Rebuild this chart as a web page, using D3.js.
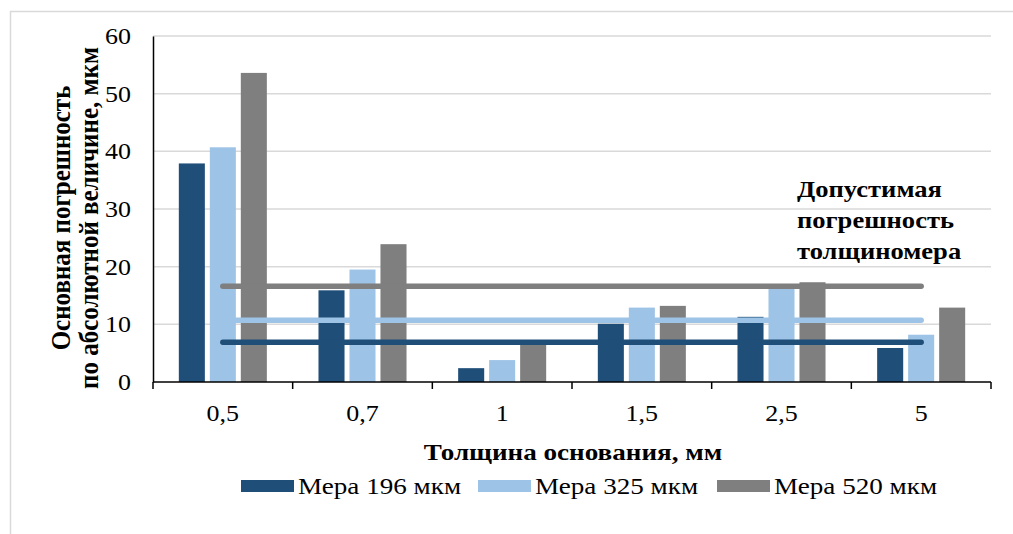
<!DOCTYPE html>
<html><head><meta charset="utf-8">
<script src="https://cdn.jsdelivr.net/npm/d3@7/dist/d3.min.js"></script>
</head>
<body style="margin:0">
<svg id="chart" width="1013" height="534"></svg>
<script>
const categories = ["0,5", "0,7", "1", "1,5", "2,5", "5"];
const seriesNames = ["Мера 196 мкм", "Мера 325 мкм", "Мера 520 мкм"];
const bars196 = [37.9, 15.9, 2.4, 10.1, 11.3, 5.9];
const bars325 = [40.7, 19.5, 3.8, 12.9, 16.2, 8.2];
const bars520 = [53.6, 23.9, 6.6, 13.2, 17.3, 12.9];
const limit196 = [6.9, 6.9, 6.9, 6.9, 6.9, 6.9];
const limit325 = [10.7, 10.7, 10.7, 10.7, 10.7, 10.7];
const limit520 = [16.6, 16.6, 16.6, 16.6, 16.6, 16.6];
const yTicks = [0, 10, 20, 30, 40, 50, 60];
const colors = ["#1f4e79", "#9dc3e6", "#7f7f7f"];
const yTitleLines = ["Основная погрешность", "по абсолютной величине, мкм"];
const xTitle = "Толщина основания, мм";
const noteLines = ["Допустимая", "погрешность", "толщиномера"];

const barSeries = [bars196, bars325, bars520];
const lineSeries = [limit196, limit325, limit520];
const SX = 1.13;

const svg = d3.select("#chart");
const L = 153, R = 991, T = 36, B = 382;

function label(parent, x, y, txt, size, anchor, bold, sx) {
  const g = parent.append("g").attr("transform", `translate(${x},${y}) scale(${sx},1)`);
  g.append("text").attr("x", 0).attr("y", 0).attr("text-anchor", anchor)
    .style("font-family", "'Liberation Serif'").attr("font-size", size)
    .attr("font-weight", bold ? "bold" : "normal").attr("fill", "#000").text(txt);
  return g;
}

// outer frame (top & left visible)
svg.append("line").attr("x1",10).attr("x2",1013).attr("y1",11.5).attr("y2",11.5).attr("stroke","#d9d9d9").attr("stroke-width",1.5);
svg.append("line").attr("x1",10.5).attr("x2",10.5).attr("y1",11).attr("y2",534).attr("stroke","#d9d9d9").attr("stroke-width",1.5);

const x0 = d3.scaleBand().domain(categories).range([L, R]).paddingInner(0).paddingOuter(0);
const x1 = d3.scaleBand().domain(d3.range(3)).range([0, x0.bandwidth()]).paddingInner(0.16).paddingOuter(0.833);
const y = d3.scaleLinear().domain([0, 60]).range([B, T]);

// gridlines
svg.append("g").selectAll("line").data(yTicks.filter(d => d > 0)).join("line")
  .attr("x1", L).attr("x2", R).attr("y1", d => y(d)).attr("y2", d => y(d))
  .attr("stroke", "#d9d9d9").attr("stroke-width", 1.5);

// bars
barSeries.forEach((vals, s) => {
  svg.append("g").selectAll("rect").data(vals).join("rect")
    .attr("x", (d, i) => x0(categories[i]) + x1(s))
    .attr("width", x1.bandwidth())
    .attr("y", d => y(d))
    .attr("height", d => y(0) - y(d))
    .attr("fill", colors[s]);
});

// limit lines
const line = d3.line().x((d, i) => x0(categories[i]) + x0.bandwidth() / 2).y(d => y(d));
[2, 1, 0].forEach(s => {
  svg.append("path").datum(lineSeries[s]).attr("d", line)
    .attr("fill", "none").attr("stroke", colors[s]).attr("stroke-width", 5.5)
    .attr("stroke-linecap", "round");
});

// y axis
const yAxis = svg.append("g").attr("transform", `translate(${L},0)`)
  .call(d3.axisLeft(y).tickValues(yTicks).tickSize(0).tickFormat(""));
yAxis.select(".domain").attr("stroke", "#000").attr("stroke-width", 1.5);
yTicks.forEach(t => label(svg, 131, y(t) + 8, String(t), 23, "end", false, SX));

// x axis
const xAxis = svg.append("g").attr("transform", `translate(0,${B})`);
xAxis.append("line").attr("x1", L).attr("x2", R).attr("y1", 0).attr("y2", 0).attr("stroke", "#000").attr("stroke-width", 1.5);
const bounds = categories.map(c => x0(c)).concat([R]);
xAxis.selectAll("line.tk").data(bounds).join("line").attr("class", "tk")
  .attr("x1", d => d).attr("x2", d => d).attr("y1", 0).attr("y2", 7).attr("stroke", "#000").attr("stroke-width", 1.5);
categories.forEach(c => label(svg, x0(c) + x0.bandwidth() / 2, B + 39, c, 23, "middle", false, SX));

// x title
label(svg, (L + R) / 2 + 1, 460, xTitle, 24, "middle", true, SX);

// y title
[0, 1].forEach(i => {
  const g = svg.append("g").attr("transform", `translate(${70 + i * 28},218) rotate(-90) scale(1,${SX})`);
  g.append("text").attr("text-anchor", "middle").style("font-family", "'Liberation Serif'")
    .attr("font-size", 25).attr("font-weight", "bold").text(yTitleLines[i]);
});

// note
noteLines.forEach((t, i) => label(svg, 797, 197 + i * 31, t, 23.5, "start", true, SX));

// legend
const legX = [241, 478, 717];
seriesNames.forEach((n, i) => {
  svg.append("rect").attr("x", legX[i]).attr("y", 480).attr("width", 53).attr("height", 12).attr("fill", colors[i]);
  label(svg, legX[i] + 57, 494, n, 24, "start", false, SX);
});
</script>
</body></html>
